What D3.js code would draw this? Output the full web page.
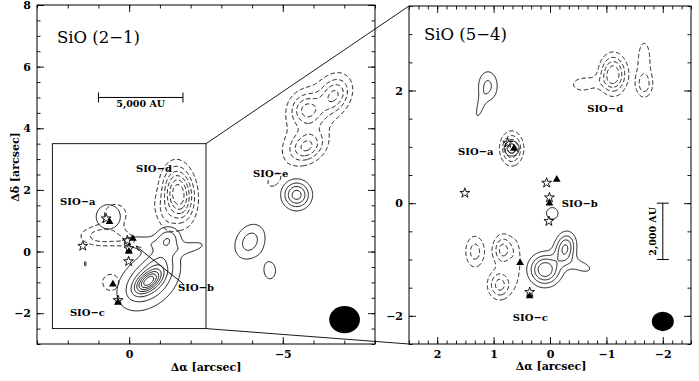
<!DOCTYPE html>
<html>
<head>
<meta charset="utf-8">
<script src="https://cdn.jsdelivr.net/npm/d3@7"></script>
<style>
  body { margin: 0; background: #fff; }
  text { font-family: "DejaVu Serif", "Liberation Serif", serif; fill: #000; }
</style>
</head>
<body>
<svg id="chart" width="699" height="381"></svg>
<script>
// ---- data (offsets in arcsec, RA offset positive to the east = left) ----
const stars = [[1.51, 0.18], [0.06, 0.36], [0.01, 0.10], [0.02, -0.32], [0.36, -1.58], [0.75, 1.07]];
const triangles = [[-0.12, 0.42], [0.01, 0.0], [0.53, -1.06], [0.36, -1.65], [0.64, 0.97]];

// emission components: [dRA, dDec, peak, sigmaMajor, sigmaMinor, angle(deg)]
const sio21Solid = [
  [-0.62, -0.97, 3.4, 0.74, 0.50, 40],
  [-0.62, -0.97, 5.2, 0.32, 0.17, 38],
  [-1.00, -0.30, 1.4, 0.45, 0.30, 60],
  [-1.27, 0.45, 2.3, 0.28, 0.26, 0],
  [-2.05, 0.15, 1.3, 0.42, 0.14, 12],
  [-0.35, 0.30, 1.5, 0.50, 0.17, -5],
  [0.68, 1.13, 1.7, 0.38, 0.38, 0],
  [1.43, -0.40, 1.15, 0.15, 0.05, 90],
  [-5.45, 1.84, 4.5, 0.30, 0.30, 0],
  [-3.93, 0.32, 2.5, 0.44, 0.33, 60],
  [-4.58, -0.62, 1.3, 0.36, 0.25, 90]
];
const sio21Dashed = [
  [-1.60, 1.85, 7.0, 0.58, 0.33, 95],
  [-1.10, 1.20, 1.2, 0.45, 0.20, 110],
  [0.90, 0.50, 2.6, 0.48, 0.22, 0],
  [0.45, 1.20, 1.4, 0.42, 0.40, 0],
  [0.10, 0.35, 1.2, 0.30, 0.15, 0],
  [0.60, -1.00, 1.3, 0.36, 0.36, 0],
  [-6.69, 5.08, 3.5, 0.40, 0.30, 60],
  [-5.78, 4.60, 3.3, 0.35, 0.35, 0],
  [-5.78, 3.40, 3.5, 0.40, 0.30, 30],
  [-5.90, 4.30, 1.3, 1.20, 0.60, 60],
  [-4.70, 2.30, 1.1, 0.30, 0.20, 45]
];
const sio54Solid = [
  [1.10, 2.08, 2.2, 0.20, 0.13, 90],
  [1.25, 1.68, 1.2, 0.20, 0.06, 75],
  [0.68, 0.97, 3.0, 0.09, 0.09, 0],
  [0.09, -1.18, 5.0, 0.18, 0.18, 0],
  [-0.27, -0.80, 4.2, 0.18, 0.12, 80],
  [-0.55, -1.12, 1.3, 0.22, 0.10, -20],
  [-0.04, -0.18, 1.3, 0.14, 0.14, 0],
  [2.55, -2.12, 1.3, 0.12, 0.05, 90]
];
const sio54Dashed = [
  [-1.12, 2.29, 5.0, 0.22, 0.15, 90],
  [-1.67, 2.10, 2.2, 0.15, 0.10, 90],
  [-1.67, 2.55, 1.4, 0.35, 0.12, 90],
  [-0.55, 2.10, 1.3, 0.15, 0.10, 0],
  [-0.80, 2.15, 0.8, 0.20, 0.10, 0],
  [0.68, 0.97, 4.5, 0.18, 0.125, 90],
  [1.33, -0.86, 2.5, 0.20, 0.12, 90],
  [0.83, -0.83, 3.5, 0.18, 0.12, 90],
  [0.89, -1.45, 3.5, 0.17, 0.14, 90],
  [0.60, -1.05, 1.3, 0.32, 0.08, 90]
];
const levels21Solid = [1, 2, 3, 4, 5, 6, 7, 8];
const levels21Dashed = [1, 2, 3, 4, 5, 6];
const levels54Solid = [1, 2, 3, 4];
const levels54Dashed = [1, 2, 3, 4];

const labels21 = [["SIO\u2212a", 2.25, 1.5], ["SIO\u2212d", -0.22, 2.58], ["SIO\u2212b", -1.59, -1.28], ["SIO\u2212c", 1.93, -2.09], ["SIO\u2212e", -4.03, 2.42]];
const labels54 = [["SIO\u2212d", -0.66, 1.62], ["SIO\u2212a", 1.63, 0.86], ["SIO\u2212b", -0.21, -0.07], ["SIO\u2212c", 0.66, -2.1]];

const beam21 = { ra: -7.01, dec: -2.21, a: 0.50, b: 0.44 };
const beam54 = { ra: -2.0, dec: -2.1, a: 0.195, b: 0.172 };

// ---- layout ----
const svg = d3.select("#chart");
const L = { x: d3.scaleLinear().domain([3, -8]).range([37, 375]), y: d3.scaleLinear().domain([-3, 8]).range([344, 5]) };
const R = { x: d3.scaleLinear().domain([2.5, -2.5]).range([409, 691]), y: d3.scaleLinear().domain([-2.5, 3.5]).range([344, 6]) };

function field(comps, ra, dec) {
  let s = 0;
  comps.forEach(([x0, y0, pk, sa, sb, ang]) => {
    const du = -(ra - x0), dv = dec - y0, t = ang * Math.PI / 180;
    const a = du * Math.cos(t) + dv * Math.sin(t), b = -du * Math.sin(t) + dv * Math.cos(t);
    s += pk * Math.exp(-(a * a / (2 * sa * sa) + b * b / (2 * sb * sb)));
  });
  return s;
}

function drawContours(g, P, comps, levels, step, dashed) {
  const [raHi, raLo] = P.x.domain(), [decLo, decHi] = P.y.domain();
  const nx = Math.ceil((raHi - raLo) / step) + 1, ny = Math.ceil((decHi - decLo) / step) + 1;
  const vals = new Float64Array(nx * ny);
  for (let j = 0; j < ny; j++)
    for (let i = 0; i < nx; i++)
      vals[i + j * nx] = field(comps, raHi - i * step, decHi - j * step);
  const proj = d3.geoTransform({
    point: function (px, py) { this.stream.point(P.x(raHi - (px - 0.5) * step), P.y(decHi - (py - 0.5) * step)); }
  });
  const path = d3.geoPath(proj);
  g.selectAll(null)
    .data(d3.contours().size([nx, ny]).thresholds(levels)(vals))
    .enter().append("path")
    .attr("d", path)
    .attr("fill", "none")
    .attr("stroke", "#000")
    .attr("stroke-width", 0.9)
    .attr("stroke-dasharray", dashed ? "4.5,2.5" : null);
}

function frame(P, xMinor, xMajor, yMinor, yMajor, xFmt, yFmt) {
  const [x0, x1] = P.x.range(), [y1, y0] = P.y.range();
  const g = svg.append("g");
  const ax = (gen, tr, vals, size, fmt) => {
    const a = g.append("g").attr("transform", tr)
      .call(gen.tickValues(vals).tickSizeInner(-size).tickSizeOuter(0).tickPadding(6).tickFormat(fmt || ""));
    a.select(".domain").remove();
    a.selectAll("line").attr("stroke-width", 0.9);
    a.selectAll("text").style("font-family", "DejaVu Serif").style("font-size", "11px").style("font-weight", "bold");
  };
  ax(d3.axisBottom(P.x), `translate(0,${y1})`, xMinor, 3.5);
  ax(d3.axisBottom(P.x), `translate(0,${y1})`, xMajor, 7, xFmt);
  ax(d3.axisTop(P.x), `translate(0,${y0})`, xMinor, 3.5);
  ax(d3.axisTop(P.x), `translate(0,${y0})`, xMajor, 7);
  ax(d3.axisLeft(P.y), `translate(${x0},0)`, yMinor, 3.5);
  ax(d3.axisLeft(P.y), `translate(${x0},0)`, yMajor, 7, yFmt);
  ax(d3.axisRight(P.y), `translate(${x1},0)`, yMinor, 3.5);
  ax(d3.axisRight(P.y), `translate(${x1},0)`, yMajor, 7);
  g.append("rect").attr("x", x0).attr("y", y0).attr("width", x1 - x0).attr("height", y1 - y0)
    .attr("fill", "none").attr("stroke", "#000").attr("stroke-width", 1);
}

function clipFor(id, P) {
  const [x0, x1] = P.x.range(), [y1, y0] = P.y.range();
  svg.append("clipPath").attr("id", id).append("rect")
    .attr("x", x0).attr("y", y0).attr("width", x1 - x0).attr("height", y1 - y0);
  return svg.append("g").attr("clip-path", `url(#${id})`);
}

function markers(g, P) {
  g.selectAll(null).data(triangles).enter().append("path")
    .attr("d", d3.symbol(d3.symbolTriangle, 26)())
    .attr("transform", d => `translate(${P.x(d[0])},${P.y(d[1])})`)
    .attr("fill", "#000");
  g.selectAll(null).data(stars).enter().append("path")
    .attr("d", d3.symbol(d3.symbolStar, 30)())
    .attr("transform", d => `translate(${P.x(d[0])},${P.y(d[1])})`)
    .attr("fill", "none").attr("stroke", "#000").attr("stroke-width", 0.9);
}

function labels(g, P, list) {
  g.selectAll(null).data(list).enter().append("text")
    .attr("x", d => P.x(d[1])).attr("y", d => P.y(d[2]))
    .style("font-size", "10px").style("font-weight", "bold")
    .text(d => d[0]);
}

function beam(g, P, b) {
  g.append("ellipse")
    .attr("cx", P.x(b.ra)).attr("cy", P.y(b.dec))
    .attr("rx", Math.abs(P.x(b.a) - P.x(0))).attr("ry", Math.abs(P.y(b.b) - P.y(0)))
    .attr("fill", "#000");
}

// ---- left panel: SiO (2-1) ----
const gl = clipFor("clipL", L);
drawContours(gl, L, sio21Solid, levels21Solid, 0.03, false);
drawContours(gl, L, sio21Dashed, levels21Dashed, 0.03, true);
markers(gl, L);
labels(gl, L, labels21);
beam(gl, L, beam21);

// zoom box
gl.append("rect")
  .attr("x", L.x(2.5)).attr("y", L.y(3.5))
  .attr("width", L.x(-2.5) - L.x(2.5)).attr("height", L.y(-2.5) - L.y(3.5))
  .attr("fill", "none").attr("stroke", "#000").attr("stroke-width", 0.9);

// arrow to SIO-b
svg.append("defs").append("marker")
  .attr("id", "arr").attr("viewBox", "0 0 10 10").attr("refX", 10).attr("refY", 5)
  .attr("markerWidth", 6).attr("markerHeight", 6).attr("orient", "auto")
  .append("path").attr("d", "M0,1L10,5L0,9").attr("fill", "none").attr("stroke", "#000").attr("stroke-width", 1.2);
gl.append("line")
  .attr("x1", L.x(-1.76)).attr("y1", L.y(-1.05)).attr("x2", L.x(-0.22)).attr("y2", L.y(0.18))
  .attr("stroke", "#000").attr("stroke-width", 0.9).attr("marker-end", "url(#arr)");

// 5,000 AU bar
const sb = svg.append("g");
sb.append("line").attr("x1", L.x(1.0)).attr("x2", L.x(-1.75)).attr("y1", L.y(5)).attr("y2", L.y(5)).attr("stroke", "#000");
[1.0, -1.75].forEach(v => sb.append("line").attr("x1", L.x(v)).attr("x2", L.x(v))
  .attr("y1", L.y(5) - 5).attr("y2", L.y(5) + 5).attr("stroke", "#000"));
sb.append("text").attr("x", L.x(-0.375)).attr("y", L.y(5) + 10).attr("text-anchor", "middle")
  .style("font-size", "9.5px").style("font-weight", "bold").text("5,000 AU");

svg.append("text").attr("x", 57).attr("y", 43).style("font-size", "16.5px").text("SiO (2\u22121)");

frame(L, d3.range(-8, 4, 1), [0, -5], d3.range(-3, 8.01, 0.5), [-2, 0, 2, 4, 6, 8], d3.format("d"), d3.format("d"));

// ---- right panel: SiO (5-4) ----
const gr = clipFor("clipR", R);
drawContours(gr, R, sio54Solid, levels54Solid, 0.012, false);
drawContours(gr, R, sio54Dashed, levels54Dashed, 0.012, true);
markers(gr, R);
labels(gr, R, labels54);
beam(gr, R, beam54);

// 2,000 AU bar
const rb = svg.append("g");
rb.append("line").attr("x1", R.x(-2)).attr("x2", R.x(-2)).attr("y1", R.y(0)).attr("y2", R.y(-1)).attr("stroke", "#000");
[0, -1].forEach(v => rb.append("line").attr("x1", R.x(-2) - 6).attr("x2", R.x(-2) + 6)
  .attr("y1", R.y(v)).attr("y2", R.y(v)).attr("stroke", "#000"));
rb.append("text").attr("transform", `translate(${R.x(-2) - 7},${R.y(-0.5)}) rotate(-90)`)
  .attr("text-anchor", "middle").style("font-size", "9.5px").style("font-weight", "bold").text("2,000 AU");

svg.append("text").attr("x", 424).attr("y", 40).style("font-size", "16.5px").text("SiO (5\u22124)");

frame(R, d3.range(-15, 16, 1).map(v => v / 6), [-2, -1, 0, 1, 2], d3.range(-2.5, 3.51, 0.5), [-2, 0, 2], d3.format("d"), d3.format("d"));

// connectors from zoom box to right panel
svg.append("line").attr("x1", L.x(-2.5)).attr("y1", L.y(3.5)).attr("x2", R.x(2.5)).attr("y2", R.y(3.5)).attr("stroke", "#000").attr("stroke-width", 0.9);
svg.append("line").attr("x1", L.x(-2.5)).attr("y1", L.y(-2.5)).attr("x2", R.x(2.5)).attr("y2", R.y(-2.5)).attr("stroke", "#000").attr("stroke-width", 0.9);

// axis titles
svg.append("text").attr("x", 206).attr("y", 371).attr("text-anchor", "middle")
  .style("font-size", "11px").style("font-weight", "bold").text("\u0394\u03b1 [arcsec]");
svg.append("text").attr("x", 551).attr("y", 370).attr("text-anchor", "middle")
  .style("font-size", "11px").style("font-weight", "bold").text("\u0394\u03b1 [arcsec]");
svg.append("text").attr("transform", "translate(19,167) rotate(-90)").attr("text-anchor", "middle")
  .style("font-size", "11px").style("font-weight", "bold").text("\u0394\u03b4 [arcsec]");
</script>
</body>
</html>
